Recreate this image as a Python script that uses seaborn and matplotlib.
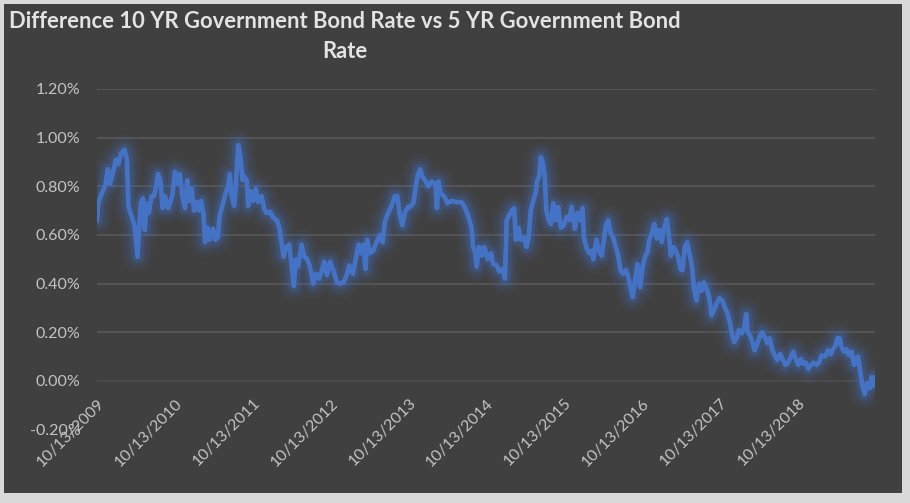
import matplotlib
matplotlib.use("Agg")
import matplotlib.pyplot as plt
from matplotlib.patches import Rectangle
import seaborn as sns
import pandas as pd

# spread 10yr - 5yr, in percent
dates = [
    # 2009-2010
    '2009-10-13', '2009-10-19', '2009-11-04', '2009-11-20', '2009-12-03', '2009-12-13', '2009-12-28',
    '2010-01-10', '2010-01-21', '2010-02-03', '2010-02-19', '2010-03-02', '2010-03-10', '2010-03-23',
    '2010-04-05', '2010-04-13', '2010-04-21', '2010-04-28', '2010-05-06', '2010-05-17', '2010-05-25',
    '2010-06-02', '2010-06-13', '2010-06-26', '2010-07-08', '2010-07-19', '2010-07-26', '2010-08-06',
    '2010-08-17', '2010-08-27', '2010-09-12', '2010-10-01',
    # 2010-2011
    '2010-10-13', '2010-10-26', '2010-11-06', '2010-11-17', '2010-11-30', '2010-12-10', '2010-12-20',
    '2010-12-31', '2011-01-11', '2011-01-24', '2011-02-04', '2011-02-13', '2011-02-24', '2011-03-04',
    '2011-03-15', '2011-03-25', '2011-04-10', '2011-04-21', '2011-05-03', '2011-05-11', '2011-05-27',
    '2011-06-08', '2011-06-20', '2011-06-28', '2011-07-06', '2011-07-18', '2011-07-26', '2011-08-06',
    '2011-08-17', '2011-08-27', '2011-09-04', '2011-09-15', '2011-09-22', '2011-10-03',
    # 2011-2012
    '2011-10-15', '2011-10-28', '2011-11-08', '2011-11-24', '2011-12-05', '2011-12-17', '2012-01-02',
    '2012-01-18', '2012-02-03', '2012-02-15', '2012-02-26', '2012-03-07', '2012-03-16', '2012-04-01',
    '2012-04-12', '2012-04-23', '2012-05-03', '2012-05-13', '2012-05-29', '2012-06-11', '2012-06-25',
    '2012-07-07', '2012-07-23', '2012-08-04', '2012-08-19', '2012-08-31', '2012-09-12', '2012-09-25',
    '2012-10-10',
    # 2012-2013
    '2012-10-25', '2012-11-11', '2012-11-26', '2012-12-12', '2012-12-27', '2013-01-08', '2013-01-25',
    '2013-02-09', '2013-02-20', '2013-03-05', '2013-03-14', '2013-03-25', '2013-04-02', '2013-04-15',
    '2013-04-30', '2013-05-16', '2013-05-31', '2013-06-13', '2013-06-24', '2013-07-09', '2013-07-25',
    '2013-08-10', '2013-08-21', '2013-09-03', '2013-09-14', '2013-09-26', '2013-10-12',
    # 2013-2014
    '2013-10-19', '2013-11-04', '2013-11-16', '2013-11-25', '2013-12-06', '2013-12-16', '2013-12-29',
    '2014-01-14', '2014-01-30', '2014-02-15', '2014-02-23', '2014-03-02', '2014-03-13', '2014-03-28',
    '2014-04-13', '2014-05-02', '2014-05-25', '2014-06-18', '2014-07-03', '2014-07-19', '2014-08-04',
    '2014-08-12', '2014-08-20', '2014-08-28', '2014-09-08', '2014-09-21', '2014-10-03',
    # 2014-2015
    '2014-10-19', '2014-11-03', '2014-11-14', '2014-11-30', '2014-12-12', '2014-12-26', '2015-01-08',
    '2015-01-16', '2015-01-27', '2015-02-09', '2015-02-20', '2015-02-28', '2015-03-12', '2015-03-22',
    '2015-04-07', '2015-04-19', '2015-04-29', '2015-05-09', '2015-05-19', '2015-05-31', '2015-06-09',
    '2015-06-17', '2015-06-25', '2015-07-05', '2015-07-13', '2015-07-21', '2015-08-01', '2015-08-11',
    '2015-08-22', '2015-09-03', '2015-09-14', '2015-09-27', '2015-10-11',
    # 2015-2016
    '2015-10-24', '2015-11-05', '2015-11-16', '2015-12-02', '2015-12-13', '2015-12-25', '2016-01-07',
    '2016-01-13', '2016-01-26', '2016-02-07', '2016-02-19', '2016-02-26', '2016-03-12', '2016-03-24',
    '2016-04-05', '2016-04-16', '2016-04-25', '2016-05-06', '2016-05-17', '2016-05-29', '2016-06-11',
    '2016-06-22', '2016-07-03', '2016-07-15', '2016-07-28', '2016-08-08', '2016-08-19', '2016-08-29',
    '2016-09-09', '2016-09-20', '2016-10-02',
    # 2016-2017
    '2016-10-15', '2016-10-26', '2016-11-06', '2016-11-15', '2016-11-26', '2016-12-08', '2016-12-19',
    '2016-12-30', '2017-01-12', '2017-01-23', '2017-02-05', '2017-02-13', '2017-02-24', '2017-03-08',
    '2017-03-19', '2017-03-30', '2017-04-10', '2017-04-19', '2017-04-30', '2017-05-11', '2017-05-24',
    '2017-06-03', '2017-06-12', '2017-06-24', '2017-07-06', '2017-07-17', '2017-07-28', '2017-08-10',
    '2017-08-22', '2017-09-03', '2017-09-14', '2017-09-27', '2017-10-09',
    # 2017-2018
    '2017-10-23', '2017-11-05', '2017-11-17', '2017-11-28', '2017-12-09', '2017-12-18', '2017-12-29',
    '2018-01-09', '2018-01-22', '2018-02-02', '2018-02-12', '2018-02-20', '2018-03-03', '2018-03-13',
    '2018-03-24', '2018-04-06', '2018-04-17', '2018-04-28', '2018-05-10', '2018-05-23', '2018-06-03',
    '2018-06-13', '2018-06-26', '2018-07-08', '2018-07-21', '2018-08-04', '2018-08-15', '2018-08-28',
    '2018-09-10', '2018-09-21', '2018-10-02',
    # 2018-2019
    '2018-10-14', '2018-10-26', '2018-11-06', '2018-11-18', '2018-11-30', '2018-12-13', '2018-12-25',
    '2019-01-08', '2019-01-19', '2019-02-01', '2019-02-17', '2019-03-03', '2019-03-15', '2019-03-26',
    '2019-04-07', '2019-04-16', '2019-04-27', '2019-05-05', '2019-05-16', '2019-05-28', '2019-06-08',
    '2019-06-21', '2019-07-03', '2019-07-11', '2019-07-21', '2019-08-02', '2019-08-11', '2019-08-22',
    '2019-09-02', '2019-09-15', '2019-09-23', '2019-10-01', '2019-10-09',
]

spread = [
    # 2009-2010
    0.66, 0.73, 0.77, 0.80, 0.87, 0.81, 0.86,
    0.91, 0.89, 0.935, 0.95, 0.91, 0.715, 0.68,
    0.645, 0.59, 0.51, 0.62, 0.73, 0.75, 0.62,
    0.73, 0.69, 0.76, 0.76, 0.81, 0.85, 0.825,
    0.71, 0.76, 0.71, 0.76,
    # 2010-2011
    0.86, 0.81, 0.85, 0.76, 0.71, 0.825, 0.74,
    0.79, 0.70, 0.735, 0.70, 0.74, 0.69, 0.57,
    0.63, 0.58, 0.625, 0.58, 0.59, 0.68, 0.73,
    0.77, 0.80, 0.85, 0.76, 0.72, 0.80, 0.97,
    0.92, 0.825, 0.84, 0.825, 0.72, 0.78,
    # 2011-2012
    0.74, 0.79, 0.735, 0.76, 0.71, 0.69, 0.695,
    0.67, 0.66, 0.63, 0.565, 0.51, 0.55, 0.56,
    0.48, 0.39, 0.50, 0.47, 0.56, 0.51, 0.50,
    0.47, 0.40, 0.44, 0.42, 0.45, 0.49, 0.435,
    0.49,
    # 2012-2013
    0.455, 0.405, 0.40, 0.405, 0.435, 0.475, 0.44,
    0.51, 0.56, 0.525, 0.56, 0.46, 0.58, 0.525,
    0.535, 0.57, 0.60, 0.57, 0.655, 0.69, 0.72,
    0.76, 0.76, 0.675, 0.64, 0.695, 0.715,
    # 2013-2014
    0.715, 0.73, 0.80, 0.845, 0.87, 0.84, 0.825,
    0.80, 0.82, 0.81, 0.71, 0.82, 0.77, 0.76,
    0.73, 0.74, 0.735, 0.735, 0.715, 0.68, 0.63,
    0.55, 0.53, 0.47, 0.55, 0.515, 0.55,
    # 2014-2015
    0.50, 0.525, 0.48, 0.475, 0.45, 0.46, 0.42,
    0.66, 0.68, 0.70, 0.71, 0.58, 0.63, 0.58,
    0.59, 0.55, 0.59, 0.70, 0.735, 0.77, 0.825,
    0.84, 0.92, 0.895, 0.84, 0.70, 0.66, 0.645,
    0.73, 0.66, 0.715, 0.63, 0.64,
    # 2015-2016
    0.675, 0.66, 0.715, 0.625, 0.69, 0.66, 0.71,
    0.59, 0.545, 0.525, 0.535, 0.50, 0.58, 0.535,
    0.515, 0.58, 0.64, 0.66, 0.61, 0.59, 0.55,
    0.515, 0.455, 0.44, 0.455, 0.43, 0.38, 0.345,
    0.415, 0.48, 0.385,
    # 2016-2017
    0.47, 0.51, 0.53, 0.58, 0.605, 0.645, 0.585,
    0.62, 0.57, 0.63, 0.665, 0.61, 0.515, 0.55,
    0.535, 0.51, 0.46, 0.455, 0.55, 0.57, 0.515,
    0.47, 0.38, 0.33, 0.40, 0.37, 0.405, 0.38,
    0.345, 0.27, 0.29, 0.32, 0.34,
    # 2017-2018
    0.33, 0.30, 0.275, 0.24, 0.185, 0.16, 0.175,
    0.21, 0.195, 0.215, 0.275, 0.20, 0.185, 0.16,
    0.125, 0.155, 0.185, 0.20, 0.18, 0.155, 0.175,
    0.13, 0.105, 0.085, 0.11, 0.085, 0.065, 0.075,
    0.10, 0.12, 0.09,
    # 2018-2019
    0.065, 0.09, 0.07, 0.075, 0.05, 0.065, 0.075,
    0.065, 0.075, 0.105, 0.10, 0.125, 0.11, 0.13,
    0.145, 0.175, 0.175, 0.14, 0.12, 0.13, 0.105,
    0.12, 0.065, 0.09, 0.10, 0.03, -0.02, -0.055,
    -0.01, -0.03, 0.015, -0.02, 0.015,
]

tick_dates = ['2009-10-13', '2010-10-13', '2011-10-13', '2012-10-13', '2013-10-13',
              '2014-10-13', '2015-10-13', '2016-10-13', '2017-10-13', '2018-10-13']
tick_labels = ['10/13/2009', '10/13/2010', '10/13/2011', '10/13/2012', '10/13/2013',
               '10/13/2014', '10/13/2015', '10/13/2016', '10/13/2017', '10/13/2018']
y_ticks = [-0.2, 0.0, 0.2, 0.4, 0.6, 0.8, 1.0, 1.2]

title_1 = 'Difference 10 YR Government Bond Rate vs 5 YR Government Bond'
title_2 = 'Rate'

df = pd.DataFrame({'date': pd.to_datetime(dates), 'spread': spread})

sns.set_style('dark')
plt.rcParams['font.family'] = ['Lato', 'DejaVu Sans']

BG = '#404040'
BLUE = '#4472C4'
TXT = '#c4c4c4'

fig = plt.figure(figsize=(9.1, 5.03), dpi=100)
fig.patch.set_facecolor('#d9d9d9')
fig.patches.append(Rectangle((4 / 910, 10 / 503), 898 / 910, 489 / 503,
                             transform=fig.transFigure, facecolor=BG,
                             edgecolor='none', zorder=-1))

ax = fig.add_axes([97 / 910, 73.5 / 503, 778 / 910, 340.5 / 503])
ax.set_facecolor(BG)

# gridlines (no line at the bottom, 0 is the axis line)
for v in y_ticks:
    if v > 0:
        ax.axhline(v, color='#5b5b5b', lw=1.1, zorder=1)

# soft glow round the line
for lw, a in [(22, 0.05), (17, 0.08), (12.5, 0.12), (8.5, 0.2)]:
    ax.plot(df['date'], df['spread'], color=BLUE, lw=lw, alpha=a,
            solid_capstyle='round', solid_joinstyle='round', zorder=2)

sns.lineplot(data=df, x='date', y='spread', color=BLUE, linewidth=3.4, ax=ax, zorder=3)

ax.set_xlim(df['date'].min(), df['date'].max())
ax.set_ylim(-0.2, 1.2)
ax.set_xlabel('')
ax.set_ylabel('')
ax.grid(False)

# spine position first - moving it resets the ticks
for s in ['top', 'right', 'left']:
    ax.spines[s].set_visible(False)
ax.spines['bottom'].set_position(('data', 0))
ax.spines['bottom'].set_color('#4e4e4e')
ax.spines['bottom'].set_linewidth(1.1)
ax.spines['bottom'].set_zorder(1)

ax.tick_params(axis='y', length=0, pad=12, labelsize=11.5, labelcolor=TXT)
ax.tick_params(axis='x', length=0, pad=11, labelsize=11.5, labelcolor=TXT)

ax.set_yticks(y_ticks)
ax.set_yticklabels([f'{v:.2f}%' for v in y_ticks])
ax.set_xticks(pd.to_datetime(tick_dates))
ax.set_xticklabels(tick_labels, rotation=45, ha='right', rotation_mode='anchor')

fig.text(345 / 910, 1 - 22 / 503, title_1, ha='center', va='center',
         fontsize=15.8, fontweight='bold', color='#e3e3e3')
fig.text(345 / 910, 1 - 52 / 503, title_2, ha='center', va='center',
         fontsize=15.8, fontweight='bold', color='#e3e3e3')

fig.savefig('out.png', dpi=100, facecolor=fig.get_facecolor())
